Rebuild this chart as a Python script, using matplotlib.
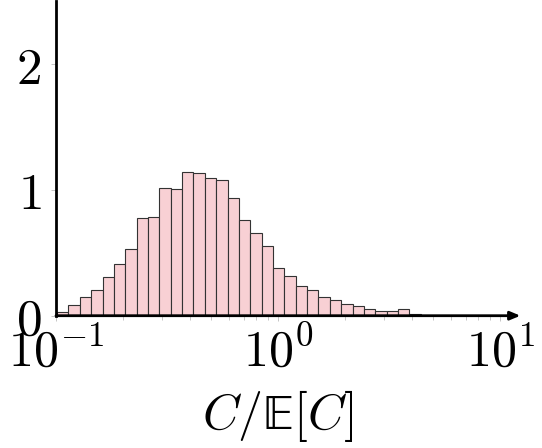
import numpy as np
import matplotlib
matplotlib.use("Agg")
import matplotlib.pyplot as plt

plt.rcParams['mathtext.fontset'] = 'cm'
plt.rcParams['font.family'] = 'serif'
plt.rcParams['font.serif'] = ['DejaVu Serif']

# Histogram (density): log-spaced bins
bin_log_lo = -0.995
bin_log_hi = 0.643
n_bins = 32
heights = [0.027, 0.082, 0.151, 0.204, 0.305, 0.414, 0.533, 0.775, 0.782, 1.013,
           1.011, 1.146, 1.138, 1.093, 1.077, 0.936, 0.764, 0.660, 0.554, 0.377,
           0.313, 0.239, 0.202, 0.146, 0.122, 0.090, 0.074, 0.053, 0.040, 0.040,
           0.050, 0.011]
xticks = [0.1, 1, 10]
xticklabels = [r'$10^{-1}$', r'$10^{0}$', r'$10^{1}$']
yticks = [0, 1, 2]
yticklabels = [r'$0$', r'$1$', r'$2$']

edges = np.logspace(bin_log_lo, bin_log_hi, n_bins + 1)

fig = plt.figure(figsize=(5.42, 4.48), dpi=100)
ax = fig.add_axes([0.1033, 0.2953, 0.8192, 0.7015])

ax.bar(edges[:-1], heights, width=np.diff(edges), align='edge',
       color='#f8d0d4', edgecolor='#333333', linewidth=0.8, zorder=2)

ax.set_xscale('log')
ax.set_xlim(0.1, 10)
ax.set_ylim(0, 2.5)

for s in ['top', 'right', 'bottom']:
    ax.spines[s].set_visible(False)
ax.spines['left'].set_linewidth(2.0)
ax.spines['left'].set_color('black')

# x-axis line with arrow, extending beyond xmax
ax.annotate('', xy=(1.046, 0), xytext=(0, 0), xycoords='axes fraction',
            textcoords='axes fraction',
            arrowprops=dict(arrowstyle='-|>,head_length=0.6,head_width=0.25',
                            color='black', lw=2.0, shrinkA=0, shrinkB=0),
            annotation_clip=False, zorder=5)

ax.set_xticks(xticks)
ax.set_xticklabels(xticklabels)
ax.set_yticks(yticks)
ax.set_yticklabels(yticklabels)

ax.tick_params(axis='x', which='both', direction='out', length=3.5, width=0.6,
               color='#bbbbbb', labelsize=36, pad=5)
ax.tick_params(axis='x', which='minor', length=3, labelbottom=False)
ax.tick_params(axis='y', direction='out', length=3.5, width=0.6,
               color='#bbbbbb', labelsize=37, pad=7)

ax.set_xlabel('$C/\\mathrm{\U0001D53C}[C]$', fontsize=36, labelpad=8)

fig.savefig('out.png', dpi=100)
